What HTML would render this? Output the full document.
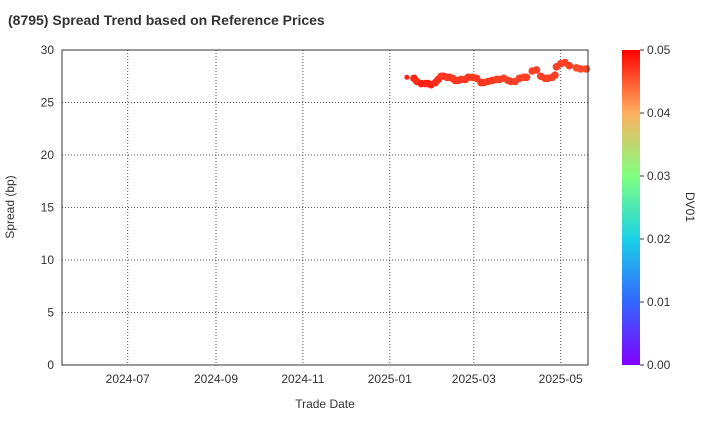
<!DOCTYPE html>
<html><head><meta charset="utf-8"><style>
body{margin:0;background:#fff;font-family:"Liberation Sans",Arial,sans-serif}
svg text{font-family:"Liberation Sans",Arial,sans-serif}
</style></head><body>
<svg id="c" width="720" height="420">
<defs><linearGradient id="g" x1="0" y1="1" x2="0" y2="0">
<stop offset="0" stop-color="#8000ff"/><stop offset="0.2" stop-color="#3366ff"/><stop offset="0.4" stop-color="#1ad1e6"/><stop offset="0.6" stop-color="#80ff80"/><stop offset="0.8" stop-color="#ffb060"/><stop offset="1" stop-color="#ff0000"/></linearGradient></defs>
<text x="8" y="25" font-size="14" font-weight="bold" fill="#333">(8795)   Spread Trend based on Reference Prices</text>
<g id="grid"></g><g id="pts"></g>
<rect x="62" y="50" width="526" height="315" fill="none" stroke="#333"/>
<text x="325" y="408" font-size="12" text-anchor="middle" fill="#333">Trade Date</text>
<text x="14" y="207" font-size="12" text-anchor="middle" fill="#333" transform="rotate(-90 14 207)">Spread (bp)</text>
<rect x="622" y="50" width="18" height="315" fill="url(#g)"/>
<g id="cb"></g>
<text x="686" y="207" font-size="12" text-anchor="middle" fill="#333" transform="rotate(90 686 207)">DV01</text>
</svg>
<script>
const dates=["2025-01-13","2025-01-18","2025-01-20","2025-01-23","2025-01-26","2025-01-28","2025-01-30","2025-02-02","2025-02-04","2025-02-06","2025-02-08","2025-02-10","2025-02-12","2025-02-14","2025-02-16","2025-02-18","2025-02-20","2025-02-23","2025-02-25","2025-02-28","2025-03-03","2025-03-06","2025-03-08","2025-03-11","2025-03-14","2025-03-17","2025-03-19","2025-03-22","2025-03-25","2025-03-27","2025-03-30","2025-04-02","2025-04-05","2025-04-07","2025-04-11","2025-04-14","2025-04-17","2025-04-20","2025-04-22","2025-04-25","2025-04-27","2025-04-28","2025-05-01","2025-05-04","2025-05-07","2025-05-12","2025-05-15","2025-05-19"];
const spreads=[27.4,27.3,27.0,26.8,26.8,26.8,26.7,26.9,27.2,27.5,27.5,27.4,27.4,27.3,27.1,27.1,27.2,27.2,27.4,27.4,27.3,26.9,26.9,27.0,27.1,27.2,27.2,27.3,27.1,27.0,27.0,27.3,27.4,27.4,28.0,28.1,27.5,27.3,27.3,27.4,27.6,28.4,28.7,28.8,28.5,28.3,28.2,28.2];
const dv01=[0.049,0.049,0.048,0.049,0.049,0.049,0.049,0.048,0.048,0.047,0.047,0.047,0.047,0.047,0.047,0.047,0.047,0.047,0.047,0.047,0.047,0.047,0.047,0.047,0.047,0.046,0.046,0.046,0.046,0.046,0.046,0.046,0.046,0.046,0.046,0.046,0.046,0.046,0.046,0.046,0.046,0.046,0.046,0.046,0.046,0.045,0.045,0.045];
const xTicks=["2024-07-01","2024-09-01","2024-11-01","2025-01-01","2025-03-01","2025-05-01"];
const xTickLabels=["2024-07","2024-09","2024-11","2025-01","2025-03","2025-05"];
const yTicks=[0,5,10,15,20,25,30];
const cbTicks=[0,0.01,0.02,0.03,0.04,0.05];
const NS="http://www.w3.org/2000/svg";
const t0=Date.parse("2024-07-01"),t1=Date.parse("2025-05-01");
function xS(d){return 127.7+(Date.parse(d)-t0)/(t1-t0)*433;}
function yS(v){return 365-v/30*315;}
function cbS(v){return 365-v/0.05*315;}
function col(v){const f=Math.min(1,Math.max(0,(v-0.04)/0.01));return `rgb(255,${Math.round(120-95*f)},${Math.round(70-55*f)})`;}
function mk(tag,a,p){const e=document.createElementNS(NS,tag);for(const k in a)e.setAttribute(k,a[k]);p.appendChild(e);return e;}
const grid=document.getElementById('grid'),pts=document.getElementById('pts'),cb=document.getElementById('cb'),svg=document.getElementById('c');
xTicks.forEach((d,i)=>{const x=xS(d);
const l=mk('line',{x1:x,x2:x,y1:50,y2:365,stroke:'#555','stroke-dasharray':'1,2'},grid);


const t=mk('text',{x:x,y:383,'font-size':12,'text-anchor':'middle',fill:'#333'},svg);t.textContent=xTickLabels[i];

});
yTicks.forEach(v=>{const y=yS(v);
if(v>0&&v<30){const l=mk('line',{x1:62,x2:588,y1:y,y2:y,stroke:'#555','stroke-dasharray':'1,2'},grid);

}
const t=mk('text',{x:54,y:y+4,'font-size':12,'text-anchor':'end',fill:'#333'},svg);t.textContent=v;

});
cbTicks.forEach(v=>{const y=cbS(v);
mk('line',{x1:640,x2:644,y1:y,y2:y,stroke:'#333'},cb);
const t=mk('text',{x:647,y:y+4,'font-size':12,fill:'#333'},cb);t.textContent=v.toFixed(2);

});
dates.forEach((d,i)=>{const c=mk('circle',{cx:xS(d),cy:yS(spreads[i]),r:i==0?2.5:3.8,fill:col(dv01[i])},pts);

});
</script>
</body></html>
